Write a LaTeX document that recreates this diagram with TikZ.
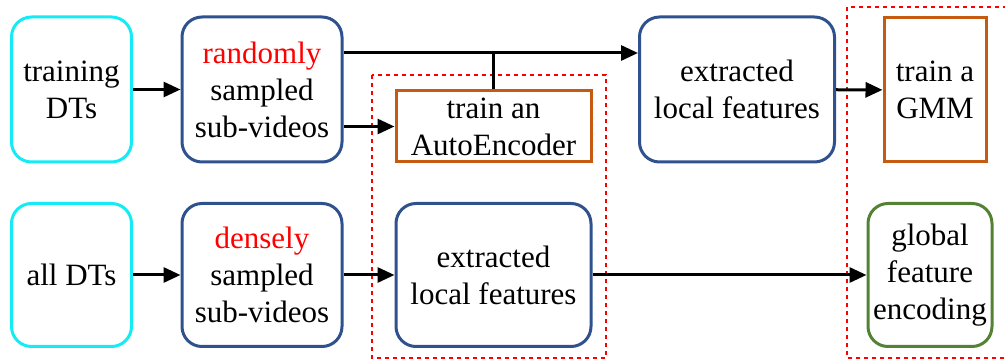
\documentclass[tikz,border=0pt]{standalone}
\usepackage{fontspec}
\setmainfont{Liberation Serif}
\usepackage{tikz}
\usetikzlibrary{arrows.meta}
\definecolor{dtcyan}{RGB}{20,235,245}
\definecolor{dtblue}{RGB}{47,82,143}
\definecolor{dtorange}{RGB}{197,90,17}
\definecolor{dtgreen}{RGB}{84,130,53}
\definecolor{dtred}{RGB}{255,0,0}

\tikzset{
  box/.style={draw, line width=3pt, rounded corners=20pt, align=center,
    inner sep=0pt, font=\fontsize{31}{37}\selectfont},
  inbox/.style={box, draw=dtcyan},
  midbox/.style={box, draw=dtblue},
  trainbox/.style={box, draw=dtorange, rounded corners=0pt},
  outbox/.style={box, draw=dtgreen},
  stage/.style={draw=dtred, line width=1.8pt, dash pattern=on 4pt off 4pt},
  arr/.style={line width=3pt, -{Triangle[length=17pt,width=15pt]}},
  link/.style={line width=3pt}
}

\begin{document}
\begin{tikzpicture}[x=1pt, y=-1pt]
  \useasboundingbox (0,0) rectangle (1005,363);

  % Dotted stage frames
  \draw[stage] (372,75) rectangle (606,358);
  \draw[stage] (1012,358) -- (847,358) -- (847,7) -- (1012,7);

  % Upper row
  \node[inbox, minimum width=120pt, minimum height=145pt] (tdt) at (71.5,89.5)
    {training\\DTs};
  \node[midbox, minimum width=160pt, minimum height=145pt] (rsv) at (262,89.5)
    {\textcolor{dtred}{randomly}\\sampled\\sub-videos};
  \node[trainbox, minimum width=195pt, minimum height=71pt] (ae) at (493.5,126.5)
    {train an\\AutoEncoder};
  \node[midbox, minimum width=195pt, minimum height=145pt] (etop) at (737,89.5)
    {extracted\\local features};
  \node[trainbox, minimum width=102pt, minimum height=144pt] (gmm) at (935,90)
    {train a\\GMM};

  % Lower row
  \node[inbox, minimum width=120pt, minimum height=143pt] (adt) at (71.5,275)
    {all DTs};
  \node[midbox, minimum width=160pt, minimum height=143pt] (dsv) at (262,275)
    {\textcolor{dtred}{densely}\\sampled\\sub-videos};
  \node[midbox, minimum width=195pt, minimum height=143pt] (ebot) at (493.5,275)
    {extracted\\local features};
  \node[outbox, minimum width=124pt, minimum height=143pt] (gfe) at (930,275)
    {global\\feature\\encoding};

  % Connectors
  \coordinate (rsvhi) at ([yshift=36.5pt]rsv.east);
  \coordinate (etophi) at ([yshift=36.5pt]etop.west);
  \draw[arr] (tdt) -- (rsv);
  \draw[arr] (rsvhi) -- (etophi);
  \draw[link] (ae.north) -- (ae.north |- rsvhi);
  \draw[arr] (rsv.east |- ae.west) -- (ae.west);
  \draw[arr] (etop) -- (gmm);

  \draw[arr] (adt) -- (dsv);
  \draw[arr] (dsv) -- (ebot);
  \draw[arr] (ebot) -- (gfe);
\end{tikzpicture}
\end{document}
